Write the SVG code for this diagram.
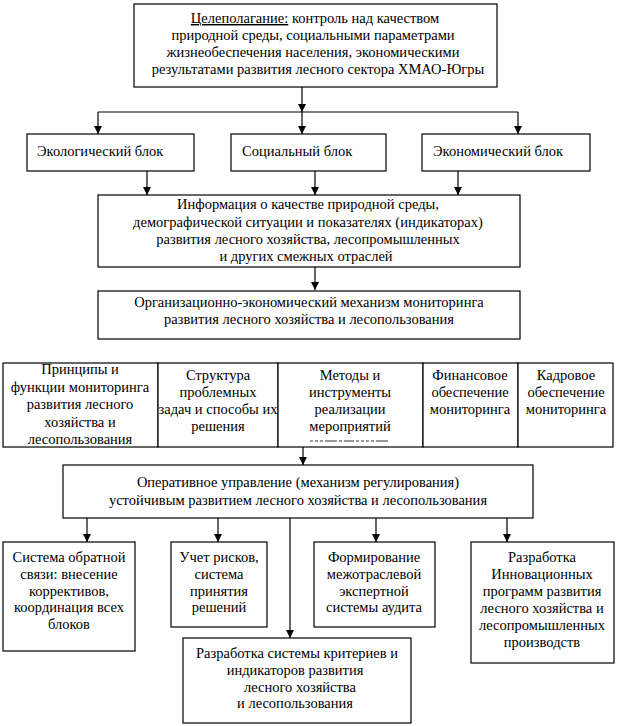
<svg xmlns="http://www.w3.org/2000/svg" width="618" height="726" viewBox="0 0 618 726">
<defs>
<style>
.b{fill:#fff;stroke:#000;stroke-width:1.2}
.t{font-family:"Liberation Serif","Times New Roman",serif;font-size:14.5px;fill:#000}
.c{text-anchor:middle}
.l{stroke:#000;stroke-width:1.2;fill:none}
</style>
</defs>
<rect width="618" height="726" fill="#fff"/>
<g id="connectors">
<line class="l" x1="302" y1="87" x2="302" y2="112"/>
<path d="M298,104 L306,104 L302,112 Z"/>
<line class="l" x1="98" y1="112" x2="518" y2="112"/>
<line class="l" x1="98" y1="112" x2="98" y2="134"/>
<path d="M94,126 L102,126 L98,134 Z"/>
<line class="l" x1="302" y1="112" x2="302" y2="134"/>
<path d="M298,126 L306,126 L302,134 Z"/>
<line class="l" x1="518" y1="112" x2="518" y2="134"/>
<path d="M514,126 L522,126 L518,134 Z"/>
<line class="l" x1="147" y1="171" x2="147" y2="195"/>
<path d="M143,187 L151,187 L147,195 Z"/>
<line class="l" x1="315" y1="171" x2="315" y2="195"/>
<path d="M311,187 L319,187 L315,195 Z"/>
<line class="l" x1="458" y1="171" x2="458" y2="195"/>
<path d="M454,187 L462,187 L458,195 Z"/>
<line class="l" x1="315" y1="267" x2="315" y2="290"/>
<path d="M311,282 L319,282 L315,290 Z"/>
<line class="l" x1="303" y1="447" x2="303" y2="465"/>
<path d="M299,457 L307,457 L303,465 Z"/>
<line class="l" x1="87" y1="518" x2="87" y2="542"/>
<path d="M83,534 L91,534 L87,542 Z"/>
<line class="l" x1="218" y1="518" x2="218" y2="542"/>
<path d="M214,534 L222,534 L218,542 Z"/>
<line class="l" x1="376" y1="518" x2="376" y2="542"/>
<path d="M372,534 L380,534 L376,542 Z"/>
<line class="l" x1="507" y1="518" x2="507" y2="542"/>
<path d="M503,534 L511,534 L507,542 Z"/>
<line class="l" x1="290" y1="518" x2="290" y2="638"/>
<path d="M286,630 L294,630 L290,638 Z"/>
</g>
<g id="goal" class="t">
<rect class="b" x="134" y="4" width="363" height="83"/>
<text class="c" x="315" y="23"><tspan text-decoration="underline">Целеполагание:</tspan> контроль над качеством</text>
<text class="c" x="313" y="40">природной среды, социальными параметрами</text>
<text class="c" x="313" y="57">жизнеобеспечения населения, экономическими</text>
<text class="c" x="318" y="74">результатами развития лесного сектора ХМАО-Югры</text>
</g>
<g id="eco" class="t">
<rect class="b" x="27" y="134" width="167" height="37"/>
<text x="37" y="156">Экологический блок</text>
</g>
<g id="soc" class="t">
<rect class="b" x="231" y="134" width="155" height="37"/>
<text x="242" y="156">Социальный блок</text>
</g>
<g id="econ" class="t">
<rect class="b" x="422" y="134" width="168" height="37"/>
<text x="433" y="156">Экономический блок</text>
</g>
<g id="info" class="t">
<rect class="b" x="98" y="195" width="422" height="72"/>
<text class="c" x="308" y="209">Информация о качестве природной среды,</text>
<text class="c" x="308" y="227">демографической ситуации и показателях (индикаторах)</text>
<text class="c" x="308" y="244">развития лесного хозяйства, лесопромышленных</text>
<text class="c" x="306" y="261">и других смежных отраслей</text>
</g>
<g id="mech" class="t">
<rect class="b" x="98" y="291" width="422" height="48"/>
<text class="c" x="309" y="307">Организационно-экономический механизм мониторинга</text>
<text class="c" x="309" y="324">развития лесного хозяйства и лесопользования</text>
</g>
<g id="principles" class="t">
<rect class="b" x="3" y="363" width="155" height="84"/>
<text class="c" x="80" y="374">Принципы и</text>
<text class="c" x="80" y="392">функции мониторинга</text>
<text class="c" x="80" y="409">развития лесного</text>
<text class="c" x="80" y="427">хозяйства и</text>
<text class="c" x="80" y="444">лесопользования</text>
</g>
<g id="structure" class="t">
<rect class="b" x="158" y="363" width="120" height="84"/>
<text class="c" x="218" y="380">Структура</text>
<text class="c" x="218" y="397">проблемных</text>
<text class="c" x="218" y="414">задач и способы их</text>
<text class="c" x="218" y="431">решения</text>
</g>
<g id="methods" class="t">
<rect class="b" x="278" y="363" width="145" height="84"/>
<text class="c" x="350" y="380">Методы и</text>
<text class="c" x="350" y="397">инструменты</text>
<text class="c" x="350" y="414">реализации</text>
<text class="c" x="350" y="431">мероприятий</text>
<line x1="310" y1="441" x2="388" y2="441" stroke="#000" stroke-width="0.8" stroke-dasharray="3,2,3,2,3,2,12,2,3,2,10,2,3,2"/>
</g>
<g id="finance" class="t">
<rect class="b" x="423" y="363" width="95" height="84"/>
<text class="c" x="470" y="380">Финансовое</text>
<text class="c" x="470" y="397">обеспечение</text>
<text class="c" x="470" y="414">мониторинга</text>
</g>
<g id="staff" class="t">
<rect class="b" x="518" y="363" width="95" height="84"/>
<text class="c" x="566" y="380">Кадровое</text>
<text class="c" x="566" y="397">обеспечение</text>
<text class="c" x="566" y="414">мониторинга</text>
</g>
<g id="operative" class="t">
<rect class="b" x="63" y="465" width="470" height="53"/>
<text class="c" x="298" y="487">Оперативное управление (механизм регулирования)</text>
<text class="c" x="298" y="505">устойчивым развитием лесного хозяйства и лесопользования</text>
</g>
<g id="feedback" class="t">
<rect class="b" x="3" y="542" width="132" height="109"/>
<text class="c" x="69" y="562">Система обратной</text>
<text class="c" x="69" y="579">связи: внесение</text>
<text class="c" x="69" y="596">коррективов,</text>
<text class="c" x="69" y="612">координация всех</text>
<text class="c" x="69" y="629">блоков</text>
</g>
<g id="risks" class="t">
<rect class="b" x="171" y="542" width="96" height="85"/>
<text class="c" x="219" y="562">Учет рисков,</text>
<text class="c" x="219" y="579">система</text>
<text class="c" x="219" y="596">принятия</text>
<text class="c" x="219" y="612">решений</text>
</g>
<g id="criteria" class="t">
<rect class="b" x="183" y="638" width="228" height="85"/>
<text class="c" x="297" y="658">Разработка системы критериев и</text>
<text class="c" x="295" y="675">индикаторов развития</text>
<text class="c" x="300" y="692">лесного хозяйства</text>
<text class="c" x="295" y="708">и лесопользования</text>
</g>
<g id="audit" class="t">
<rect class="b" x="314" y="542" width="121" height="85"/>
<text class="c" x="374" y="562">Формирование</text>
<text class="c" x="374" y="579">межотраслевой</text>
<text class="c" x="374" y="596">экспертной</text>
<text class="c" x="374" y="612">системы аудита</text>
</g>
<g id="innov" class="t">
<rect class="b" x="471" y="542" width="143" height="121"/>
<text class="c" x="542" y="562">Разработка</text>
<text class="c" x="542" y="579">Инновационных</text>
<text class="c" x="542" y="596">программ развития</text>
<text class="c" x="542" y="613">лесного хозяйства и</text>
<text class="c" x="542" y="630">лесопромышленных</text>
<text class="c" x="542" y="647">производств</text>
</g>
</svg>
